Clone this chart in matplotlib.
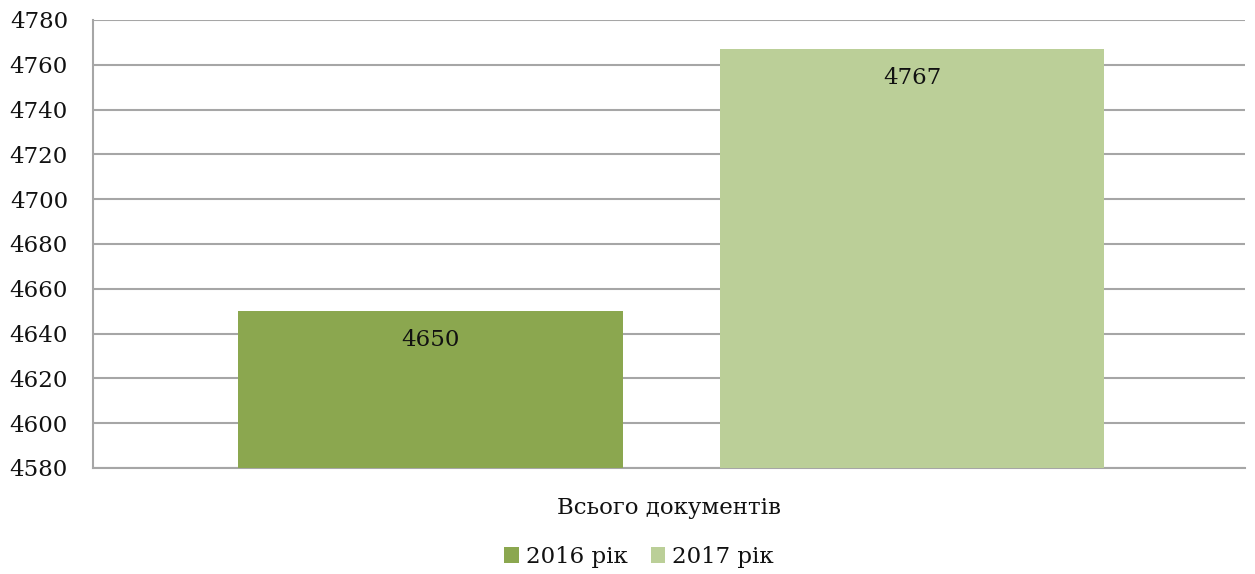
"""Bar chart: total documents, 2016 vs 2017."""

import matplotlib.pyplot as plt

category = "Всього документів"
series_names = ["2016 рік", "2017 рік"]
values = [4650, 4767]
colors = ["#8BA74F", "#BBCF98"]
y_ticks = list(range(4580, 4781, 20))

GRID = "#A6A6A6"
FS = 16.5

plt.rcParams["font.family"] = ["DejaVu Serif"]

fig = plt.figure(figsize=(12.55, 5.74), dpi=100)
ax = fig.add_axes([0.0741, 0.1847, 0.9179, 0.7805])

center = 0.502
offsets = [-0.209, 0.209]
width = 0.334
for name, val, col, off in zip(series_names, values, colors, offsets):
    ax.bar(center + off, val - y_ticks[0], bottom=y_ticks[0], width=width,
           color=col, label=name, zorder=3)
    ax.annotate(f"{val}", xy=(center + off, val), xytext=(0, -21),
                textcoords="offset points", ha="center", va="center",
                fontsize=FS, color="#111111", zorder=4)

ax.set_xlim(0, 1)
ax.set_ylim(y_ticks[0], y_ticks[-1])
ax.set_yticks(y_ticks)
ax.set_xticks([0.5], [category])
ax.tick_params(axis="y", length=0, pad=18, labelsize=FS, labelcolor="#111111")
ax.tick_params(axis="x", length=0, pad=21, labelsize=FS, labelcolor="#111111")
ax.grid(axis="y", color=GRID, linewidth=1.5, zorder=0)

for side in ["top", "right"]:
    ax.spines[side].set_visible(False)
for side in ["left", "bottom"]:
    ax.spines[side].set_color(GRID)
    ax.spines[side].set_linewidth(1.5)

fig.legend(loc="center", bbox_to_anchor=(639 / 1255, 1 - 557 / 574), ncol=2,
           frameon=False, fontsize=FS, handlelength=0.65, handleheight=0.65,
           handletextpad=0.3, columnspacing=1.0, labelcolor="#111111")

fig.savefig("out.png", dpi=100)
